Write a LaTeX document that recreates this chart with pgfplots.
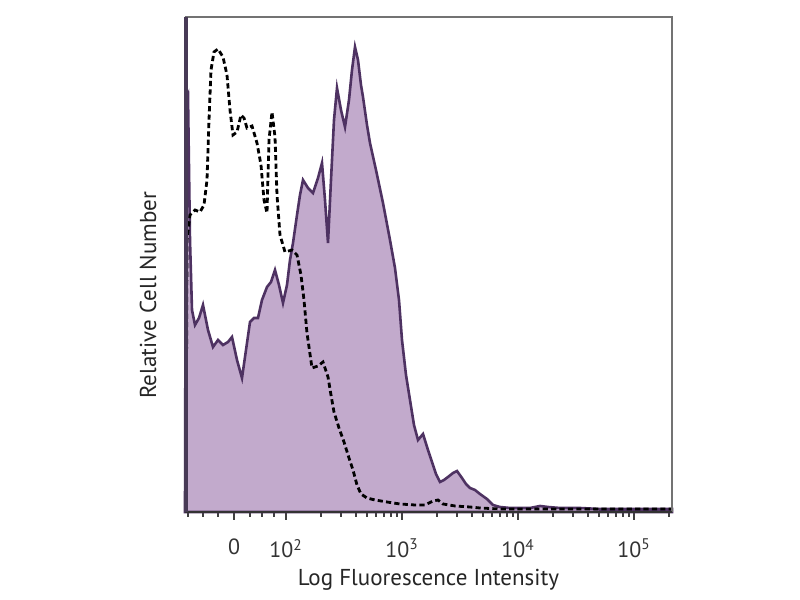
\documentclass[border=0pt]{standalone}
\usepackage{pgfplots}
\pgfplotsset{compat=1.18}
\usepackage{fontspec}
\setmainfont{PT Sans}
\definecolor{fillpurple}{RGB}{194,170,204}
\definecolor{linepurple}{RGB}{78,50,98}
\definecolor{frameleft}{RGB}{72,58,86}
\begin{document}
\begin{tikzpicture}[x=0.5pt,y=0.5pt]
\path[fill=white] (0,0) rectangle (800,600);
\begin{axis}[
  at={(185,88)}, anchor=south west,
  scale only axis, width=243.5pt, height=247.5pt,
  xmin=185, xmax=672, ymin=0, ymax=495,
  axis line style={draw=none},
  ytick=\empty,
  xtick={234,286,402,518,634},
  xticklabels={0,10\textsuperscript{2},10\textsuperscript{3},10\textsuperscript{4},10\textsuperscript{5}},
  minor xtick={188,203,218,250,262,274,321,341,356,367,376,384,391,397,437,457,472,483,492,500,507,513,553,573,588,599,608,616,623,629,669},
  tick align=outside, tick pos=bottom,
  major tick length=4pt, minor tick length=2.5pt,
  tick style={color=black!75, line width=0.9pt},
  ticklabel style={font=\fontsize{11}{13}\selectfont, color=black!80},
  xticklabel style={yshift=-6pt},
  xlabel={Log Fluorescence Intensity},
  ylabel={Relative Cell Number},
  label style={font=\fontsize{11.5}{13}\selectfont, color=black!85},
  xlabel style={at={(axis description cs:0.5,-0.137)}, anchor=center},
  ylabel style={at={(axis description cs:-0.076,0.438)}, anchor=center, rotate=0},
  clip=false,
]
\addplot[draw=linepurple, line width=1.3pt, fill=fillpurple] coordinates {
(185,0)(186,412)(188,417)(190,272)(192,202)(195,187)(199,194)(203,207)(208,182)(213,165)(218,172)(223,167)(228,170)(232,175)(237,152)(242,134)(246,162)(250,190)(254,194)(258,194)(262,212)(267,225)(271,230)(275,242)(279,227)(283,209)(287,227)(290,252)(293,269)(297,297)(300,317)(303,332)(308,324)(313,319)(318,334)(322,349)(325,312)(328,269)(331,332)(334,392)(337,424)(341,402)(345,385)(349,412)(352,442)(355,465)(358,452)(361,427)(363,415)(367,387)(370,369)(376,342)(383,309)(390,272)(395,244)(399,212)(402,172)(406,137)(410,112)(414,87)(418,72)(423,78)(428,62)(432,50)(436,38)(440,30)(444,32)(448,35)(453,39)(457,41)(462,34)(466,28)(470,24)(475,22)(480,18)(487,13)(493,7)(500,5)(510,4)(530,4)(540,6)(548,5)(560,4)(580,4)(600,3)(672,3)(672,0)
} \closedcycle;
\addplot[draw=black, line width=1.4pt, dash pattern=on 2.6pt off 1.6pt] coordinates {
(186,0)(187,272)(190,297)(195,302)(200,300)(204,307)(207,332)(209,392)(211,442)(214,460)(218,463)(223,455)(227,437)(230,402)(233,377)(237,380)(241,397)(244,394)(247,384)(252,386)(257,369)(261,347)(264,312)(267,299)(269,372)(272,400)(275,375)(277,317)(280,277)(285,260)(292,262)(297,257)(301,237)(304,212)(307,179)(312,144)(318,146)(323,150)(328,135)(331,117)(334,100)(339,84)(344,70)(349,54)(353,42)(357,27)(361,18)(367,14)(375,12)(387,10)(400,8)(415,7)(425,7)(433,11)(438,12)(443,8)(455,6)(470,5)(480,4)(500,3)(672,3)
};
\draw[color=black!55, line width=0.8pt] (axis cs:185,495) -- (axis cs:672,495) -- (axis cs:672,0);
\draw[color=black!80, line width=1pt] (axis cs:185,0) -- (axis cs:672,0);
\draw[color=frameleft, line width=2pt] (axis cs:186,0) -- (axis cs:186,495);
\end{axis}
\end{tikzpicture}
\end{document}
